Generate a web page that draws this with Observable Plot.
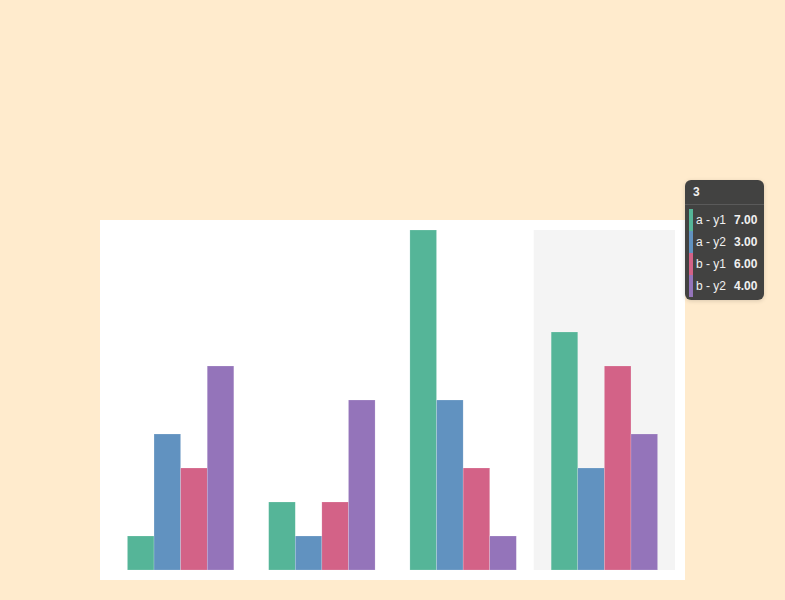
<!DOCTYPE html>
<html>
<head>
<meta charset="utf-8">
<script src="https://cdn.jsdelivr.net/npm/d3@7"></script>
<script src="https://cdn.jsdelivr.net/npm/@observablehq/plot@0.6"></script>
<style>
  html, body { margin: 0; padding: 0; }
  body { width: 785px; height: 600px; background: #FFEBCD; position: relative; overflow: hidden; font-family: "Liberation Sans", Arial, sans-serif; }
  #chart { position: absolute; left: 100px; top: 220px; }
  #chart svg { display: block; background: #ffffff; }
  .tip { position: absolute; left: 685px; top: 180px; width: 79px; background: rgba(60,60,60,0.97); border-radius: 6px; color: #f0f0f0; font-size: 12px; box-shadow: 0 1px 4px rgba(0,0,0,0.15); }
  .tip .title { font-weight: bold; padding: 4px 8px 0 8px; height: 20px; line-height: 16px; border-bottom: 1px solid #5a5a5a; }
  .tip .rows { padding: 4px 0 3px 4px; }
  .tip .row { display: flex; align-items: center; height: 22px; }
  .tip .sw { width: 4px; height: 22px; margin-right: 3px; }
  .tip .lab { width: 38px; }
  .tip .val { font-weight: bold; }
</style>
</head>
<body>
<div id="chart"></div>
<div class="tip" id="tip"></div>
<script>
const groups = ["0", "1", "2", "3"];
const series = ["a - y1", "a - y2", "b - y1", "b - y2"];
const colors = ["#55b598", "#6192c0", "#d36287", "#9474ba"];
const values_a_y1 = [1, 2, 10, 7];
const values_a_y2 = [4, 1, 5, 3];
const values_b_y1 = [3, 2, 3, 6];
const values_b_y2 = [6, 5, 1, 4];
const highlighted = "3";

const seriesValues = [values_a_y1, values_a_y2, values_b_y1, values_b_y2];
const data = [];
groups.forEach((g, gi) => {
  series.forEach((s, si) => {
    data.push({group: g, series: s, value: seriesValues[si][gi]});
  });
});

const chart = Plot.plot({
  width: 585,
  height: 360,
  marginTop: 10,
  marginBottom: 10,
  marginLeft: 10,
  marginRight: 10,
  style: {background: "#ffffff"},
  fx: {domain: groups, padding: 0, round: false, axis: null},
  x: {domain: series, paddingInner: 0, paddingOuter: 0.655, round: false, axis: null},
  y: {domain: [0, 10], axis: null},
  color: {domain: series, range: colors},
  marks: [
    Plot.rect([{group: highlighted}], {fx: "group", y1: 0, y2: 10, fill: "#f4f4f4"}),
    Plot.barY(data, {fx: "group", x: "series", y: "value", fill: "series", stroke: "#ffffff", strokeOpacity: 0.35, strokeWidth: 0.5})
  ]
});
document.getElementById("chart").appendChild(chart);

const gi = groups.indexOf(highlighted);
const tip = document.getElementById("tip");
let html = `<div class="title">${highlighted}</div><div class="rows">`;
series.forEach((s, si) => {
  html += `<div class="row"><div class="sw" style="background:${colors[si]}"></div><div class="lab">${s}</div><div class="val">${seriesValues[si][gi].toFixed(2)}</div></div>`;
});
html += `</div>`;
tip.innerHTML = html;
</script>
</body>
</html>
